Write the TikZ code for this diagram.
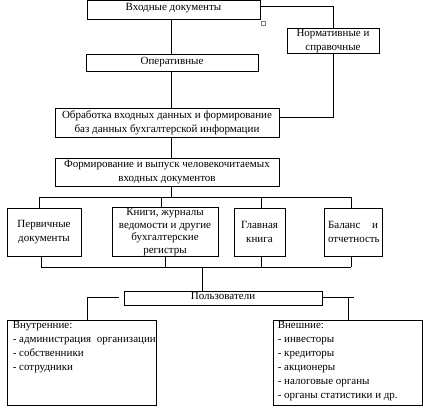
\documentclass[tikz,border=0pt]{standalone}
\usepackage{fontspec}
\setmainfont{Liberation Serif}
\usetikzlibrary{calc}
\begin{document}
\tikzset{
  box/.style={draw, line width=0.9pt, inner sep=1pt, align=center, font=\fontsize{11}{13.5}\selectfont},
  listtext/.style={anchor=north west, inner sep=0pt, align=left, font=\fontsize{11}{14}\selectfont},
  conn/.style={line width=0.9pt},
}
\begin{tikzpicture}[x=1pt,y=-1pt]
\useasboundingbox (0,0) rectangle (423,415);
\fill[white] (0,0) rectangle (423,415);

\node[box, minimum width=173, minimum height=19, text depth=6pt] (vhod) at (173.5,9.5) {Входные документы};
\node[box, minimum width=92, minimum height=24] (norm) at (333,41) {Нормативные и\\справочные};
\node[box, minimum width=172, minimum height=17, text depth=4pt] (oper) at (172,62.5) {Оперативные};
\node[box, minimum width=224, minimum height=29] (obr) at (167,122.5) {Обработка входных данных и формирование\\баз данных бухгалтерской информации};
\node[box, minimum width=224, minimum height=28] (form) at (167,172) {Формирование и выпуск человекочитаемых\\входных документов};
\node[box, minimum width=74, minimum height=48] (perv) at (44,232) {Первичные\\документы};
\node[box, minimum width=106, minimum height=48, font=\fontsize{11}{12.5}\selectfont] (knigi) at (165,232) {Книги, журналы\\ведомости и другие\\бухгалтерские\\регистры};
\node[box, minimum width=51, minimum height=48] (glav) at (259.5,232) {Главная\\книга};
\node[box, minimum width=58, minimum height=48, text width=50pt, align=left] (bal) at (353,232) {Баланс\hfill и\\отчетность};
\node[box, minimum width=198, minimum height=14, inner sep=0pt, text depth=4pt] (pol) at (223,298) {Пользователи};
\node[box, minimum width=149, minimum height=85] (vnutr) at (81.5,362.5) {};
\node[box, minimum width=149.5, minimum height=85] (vnesh) at (347.75,362.5) {};
\node[listtext] (vnutrtxt) at ($(vnutr.north west)+(6,1.5)$) {Внутренние:\\- администрация\ \ организации\\- собственники\\- сотрудники};
\node[listtext] (vneshtxt) at ($(vnesh.north west)+(5,1.5)$) {Внешние:\\- инвесторы\\- кредиторы\\- акционеры\\- налоговые органы\\- органы статистики и др.};

\draw[gray, line width=0.5pt] (261,21) rectangle (265,25);

\coordinate (xm) at (171,0);
\coordinate (y1) at (0,6);
\coordinate (y2) at (0,117);
\draw[conn] (vhod.south -| xm) -- (oper.north -| xm);
\draw[conn] (oper.south -| xm) -- (obr.north -| xm);
\draw[conn] (obr.south -| xm) -- (form.north -| xm);
\draw[conn] (vhod.east |- y1) -| (norm.north);
\draw[conn] (norm.south) |- (obr.east |- y2);

\coordinate (b1) at (39,197);
\coordinate (b2) at (161,197);
\coordinate (b3) at (261,197);
\coordinate (b4) at (351,197);
\draw[conn] (form.south -| xm) -- (b1 -| xm);
\draw[conn] (b1) -- (b4);
\draw[conn] (b1) -- (b1 |- perv.north);
\draw[conn] (b2) -- (b2 |- knigi.north);
\draw[conn] (b3) -- (b3 |- glav.north);
\draw[conn] (b4) -- (b4 |- bal.north);

\coordinate (c1) at (41,267);
\coordinate (c2) at (165,267);
\coordinate (c3) at (261,267);
\coordinate (c4) at (351,267);
\coordinate (cm) at (202,267);
\draw[conn] (c1 |- perv.south) -- (c1);
\draw[conn] (c2 |- knigi.south) -- (c2);
\draw[conn] (c3 |- glav.south) -- (c3);
\draw[conn] (c4 |- bal.south) -- (c4);
\draw[conn] (c1) -- (c4);
\draw[conn] (cm) -- (cm |- pol.north);

\coordinate (pl) at (119,297);
\coordinate (pl2) at (87,297);
\coordinate (pr) at (354,297);
\coordinate (pr2) at (348,297);
\draw[conn] (pl) -- (pl2) -- (pl2 |- vnutr.north);
\draw[conn] (pol.east |- pr) -- (pr);
\draw[conn] (pr2) -- (pr2 |- vnesh.north);
\end{tikzpicture}
\end{document}
